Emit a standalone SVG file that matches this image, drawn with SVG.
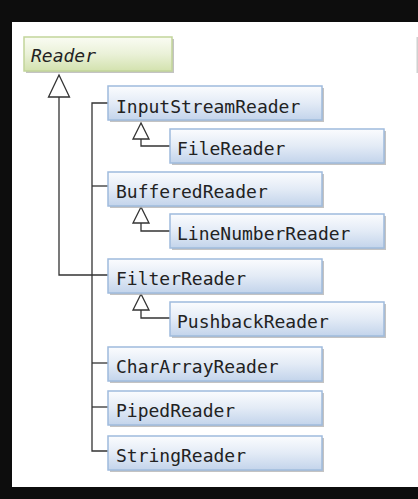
<svg xmlns="http://www.w3.org/2000/svg" width="418" height="499" viewBox="0 0 418 499">
<defs>
<linearGradient id="blue" x1="0" y1="0" x2="0" y2="1">
<stop offset="0" stop-color="#fbfcfe"/>
<stop offset="0.5" stop-color="#e3ebf6"/>
<stop offset="1" stop-color="#c3d4eb"/>
</linearGradient>
<linearGradient id="green" x1="0" y1="0" x2="0" y2="1">
<stop offset="0" stop-color="#fafcf3"/>
<stop offset="0.5" stop-color="#eaf1d8"/>
<stop offset="1" stop-color="#d3e2ae"/>
</linearGradient>
</defs>
<style>
.shadow{fill:#b4b4b4;opacity:0.8}
.box{fill:url(#blue);stroke:#9fbbdd;stroke-width:1.5}
.abox{fill:url(#green);stroke:#c2d59a;stroke-width:1.5}
.t{font-family:"DejaVu Sans Mono","Liberation Mono",monospace;font-size:18px;fill:#222}
.it{font-style:italic}
.c{fill:none;stroke:#333;stroke-width:1.3}
.tri{fill:#fff;stroke:#333;stroke-width:1.3}
</style>
<rect width="418" height="499" fill="#0d0d0d"/>
<rect x="12" y="22" width="406" height="465" fill="#fff"/>
<rect x="416.5" y="37" width="1.5" height="36" fill="#d0d0d0"/>

<g id="connectors">
<polyline class="c" points="59,97 59,275 108,275"/>
<polyline class="c" points="108,103 92,103 92,451 108,451"/>
<line class="c" x1="92" y1="186" x2="108" y2="186"/>
<line class="c" x1="92" y1="363" x2="108" y2="363"/>
<line class="c" x1="92" y1="407" x2="108" y2="407"/>
<polyline class="c" points="141,139 141,146 170,146"/>
<polyline class="c" points="141,223 141,231 170,231"/>
<polyline class="c" points="141,310 141,318 170,318"/>
<polygon class="tri" points="59,75 48.5,97 69.5,97"/>
<polygon class="tri" points="141,123 133,139 149,139"/>
<polygon class="tri" points="141,207 133,223 149,223"/>
<polygon class="tri" points="141,294 133,310 149,310"/>
</g>

<g id="Reader">
<rect class="shadow" x="26" y="39" width="148" height="34"/>
<rect class="abox" x="24" y="37" width="148" height="34"/>
<text class="t it" x="31" y="62">Reader</text>
</g>
<g id="InputStreamReader">
<rect class="shadow" x="110" y="88" width="214" height="34"/>
<rect class="box" x="108" y="86" width="214" height="34"/>
<text class="t" x="116" y="113">InputStreamReader</text>
</g>
<g id="FileReader">
<rect class="shadow" x="172" y="131" width="214" height="34"/>
<rect class="box" x="170" y="129" width="214" height="34"/>
<text class="t" x="177" y="155">FileReader</text>
</g>
<g id="BufferedReader">
<rect class="shadow" x="110" y="174" width="214" height="34"/>
<rect class="box" x="108" y="172" width="214" height="34"/>
<text class="t" x="116" y="198">BufferedReader</text>
</g>
<g id="LineNumberReader">
<rect class="shadow" x="172" y="216" width="214" height="34"/>
<rect class="box" x="170" y="214" width="214" height="34"/>
<text class="t" x="177" y="240">LineNumberReader</text>
</g>
<g id="FilterReader">
<rect class="shadow" x="110" y="261" width="214" height="34"/>
<rect class="box" x="108" y="259" width="214" height="34"/>
<text class="t" x="116" y="285">FilterReader</text>
</g>
<g id="PushbackReader">
<rect class="shadow" x="172" y="304" width="214" height="34"/>
<rect class="box" x="170" y="302" width="214" height="34"/>
<text class="t" x="177" y="328">PushbackReader</text>
</g>
<g id="CharArrayReader">
<rect class="shadow" x="110" y="349" width="214" height="34"/>
<rect class="box" x="108" y="347" width="214" height="34"/>
<text class="t" x="116" y="373">CharArrayReader</text>
</g>
<g id="PipedReader">
<rect class="shadow" x="110" y="393" width="214" height="34"/>
<rect class="box" x="108" y="391" width="214" height="34"/>
<text class="t" x="116" y="417">PipedReader</text>
</g>
<g id="StringReader">
<rect class="shadow" x="110" y="438" width="214" height="34"/>
<rect class="box" x="108" y="436" width="214" height="34"/>
<text class="t" x="116" y="462">StringReader</text>
</g>
</svg>
